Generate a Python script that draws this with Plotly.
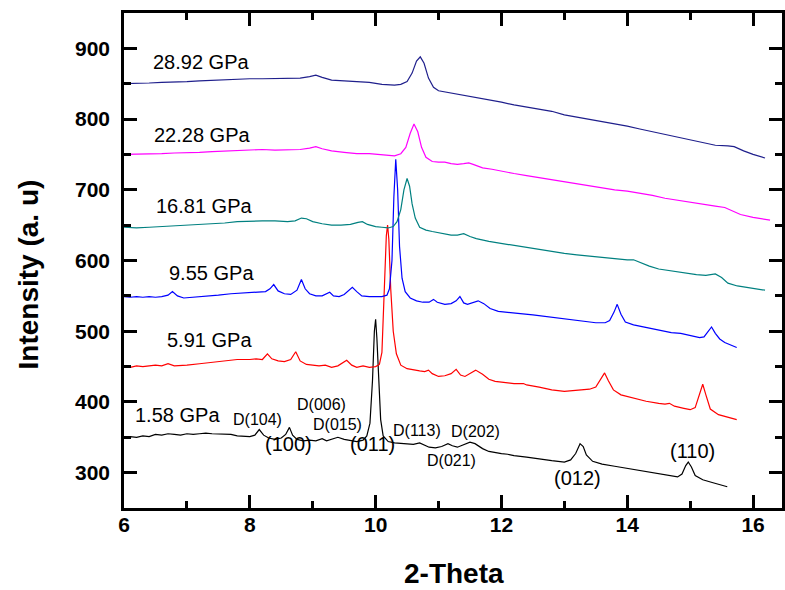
import plotly.graph_objects as go

# ---------------- data ----------------
x_158 = [6.0, 6.1, 6.2, 6.3, 6.4, 6.5, 6.6, 6.7, 6.8, 6.9, 7.0, 7.1, 7.2, 7.3, 7.4, 7.5, 7.6, 7.7, 7.8, 7.9, 8.0,
         8.08, 8.15, 8.22, 8.3, 8.4, 8.5, 8.57, 8.63, 8.68, 8.75, 8.85, 8.95, 9.05, 9.15, 9.22, 9.3, 9.4, 9.5, 9.6,
         9.7, 9.8, 9.86, 9.91, 9.95, 9.98, 10.0, 10.02, 10.05, 10.08, 10.12, 10.2, 10.3, 10.4, 10.5, 10.6, 10.7,
         10.76, 10.85, 10.95, 11.05, 11.15, 11.22, 11.3, 11.4, 11.5, 11.58, 11.7, 11.8, 11.9, 12.0, 12.1, 12.2,
         12.4, 12.6, 12.8, 13.0, 13.1, 13.18, 13.25, 13.3, 13.35, 13.45, 13.6, 13.8, 14.0, 14.2, 14.4, 14.6, 14.7,
         14.8, 14.87, 14.93, 14.97, 15.02, 15.08, 15.2, 15.35, 15.5, 15.59]
y_158 = [350, 351, 350, 352, 351, 354, 353, 355, 354, 353, 355, 354, 355, 356, 355, 355, 354, 354, 352, 351, 351,
         353, 361, 353, 349, 347, 349, 354, 364, 353, 347, 345, 346, 345, 348, 345, 347, 350, 347, 345,
         344, 346, 352, 370, 430, 500, 517, 490, 420, 375, 352, 344, 342, 341, 341, 340, 342,
         340, 336, 335, 337, 341, 338, 336, 339, 343, 341, 334, 330, 328, 327, 326, 324,
         322, 319, 317, 315, 318, 327, 341, 337, 325, 316, 312, 309, 306, 303, 300, 297, 296,
         294, 298, 310, 315, 308, 296, 290, 286, 282, 280]

x_591 = [6.0, 6.1, 6.2, 6.3, 6.4, 6.5, 6.6, 6.7, 6.8, 6.9, 7.0, 7.2, 7.4, 7.6, 7.8, 8.0, 8.1, 8.2, 8.28, 8.35,
         8.45, 8.55, 8.65, 8.73, 8.8, 8.9, 9.0, 9.1, 9.2, 9.3, 9.4, 9.48, 9.54, 9.62, 9.7, 9.8, 9.9, 10.0, 10.06,
         10.1, 10.14, 10.17, 10.19, 10.21, 10.24, 10.28, 10.33, 10.4, 10.5, 10.6, 10.7, 10.78, 10.84, 10.9, 11.0,
         11.1, 11.2, 11.28, 11.35, 11.42, 11.5, 11.59, 11.7, 11.8, 11.9, 12.0, 12.2, 12.35, 12.4, 12.6, 12.8,
         13.0, 13.2, 13.4, 13.5, 13.58, 13.64, 13.7, 13.78, 13.9, 14.1, 14.3, 14.5, 14.6, 14.67, 14.75, 14.9,
         15.0, 15.08, 15.15, 15.2, 15.25, 15.32, 15.45, 15.6, 15.74]
y_591 = [450, 449, 451, 450, 451, 452, 451, 454, 451, 451, 452, 454, 456, 458, 460, 460, 461, 460, 468, 461,
         458, 457, 460, 471, 458, 453, 452, 451, 452, 449, 451, 455, 459, 452, 449, 451, 449, 450, 453,
         470, 560, 635, 650, 630, 560, 500, 468, 452, 447, 445, 444, 443, 445, 440, 436,
         437, 440, 446, 438, 436, 440, 445, 439, 432, 429, 428, 426, 426, 424, 421, 417,
         415, 416, 418, 421, 432, 441, 430, 417, 410, 405, 401, 398, 397, 398, 394, 391,
         389, 392, 410, 425, 410, 390, 382, 378, 375]

x_955 = [6.0, 6.1, 6.2, 6.3, 6.4, 6.5, 6.6, 6.7, 6.77, 6.85, 6.95, 7.1, 7.3, 7.5, 7.7, 7.9, 8.1, 8.25, 8.32,
         8.38, 8.45, 8.55, 8.65, 8.75, 8.82, 8.88, 8.95, 9.05, 9.15, 9.22, 9.27, 9.33, 9.42, 9.5, 9.57, 9.63,
         9.7, 9.78, 9.9, 10.0, 10.1, 10.18, 10.22, 10.26, 10.29, 10.32, 10.35, 10.38, 10.42, 10.47, 10.55,
         10.65, 10.75, 10.85, 10.92, 10.98, 11.1, 11.2, 11.28, 11.34, 11.4, 11.46, 11.55, 11.63, 11.72, 11.82,
         11.95, 12.1, 12.3, 12.5, 12.7, 12.9, 13.1, 13.3, 13.5, 13.65, 13.72, 13.79, 13.84, 13.9, 13.97, 14.1,
         14.3, 14.5, 14.7, 14.85, 15.0, 15.15, 15.22, 15.28, 15.34, 15.4, 15.47, 15.55, 15.65, 15.74]
y_955 = [549, 548, 549, 548, 549, 548, 549, 551, 556, 550, 547, 548, 549, 551, 553, 554, 555, 556, 560,
         566, 557, 553, 552, 558, 573, 560, 553, 550, 550, 553, 555, 550, 549, 552, 558, 562,
         556, 550, 549, 549, 549, 551, 560, 600, 690, 743, 700, 620, 575, 556, 547,
         543, 541, 541, 545, 541, 538, 539, 543, 549, 540, 538, 541, 543, 539, 532,
         528, 527, 525, 523, 521, 519, 517, 514, 512, 512, 515, 527, 538, 524, 513, 509,
         505, 502, 498, 497, 494, 491, 492, 499, 506, 497, 489, 484, 480, 477]

x_1681 = [6.0, 6.2, 6.4, 6.6, 6.8, 7.0, 7.2, 7.4, 7.6, 7.8, 8.0, 8.2, 8.4, 8.6, 8.72, 8.82, 8.9, 9.0, 9.15,
          9.3, 9.45, 9.6, 9.72, 9.79, 9.87, 10.0, 10.1, 10.2, 10.28, 10.34, 10.4, 10.45, 10.5, 10.54, 10.58,
          10.63, 10.7, 10.8, 10.9, 11.0, 11.1, 11.2, 11.3, 11.4, 11.5, 11.6, 11.8, 12.0, 12.2, 12.4, 12.6,
          12.8, 13.0, 13.2, 13.4, 13.6, 13.8, 13.9, 14.0, 14.1, 14.2, 14.35, 14.5, 14.7, 14.9, 15.1, 15.25,
          15.4, 15.5, 15.6, 15.75, 15.9, 16.05, 16.19]
y_1681 = [647, 646, 647, 648, 648, 649, 650, 652, 653, 655, 656, 656, 656, 655, 656, 660, 659, 655, 652,
          650, 650, 651, 654, 655, 651, 648, 647, 646, 648, 655, 672, 700, 716, 705, 680,
          660, 647, 643, 641, 639, 637, 636, 636, 638, 634, 631, 627, 624, 622, 619, 616,
          613, 610, 608, 606, 604, 603, 601, 601, 601, 597, 592, 588, 585, 582, 580, 579,
          581, 576, 568, 564, 562, 560, 558]

x_2228 = [6.0, 6.2, 6.4, 6.6, 6.8, 7.0, 7.2, 7.4, 7.6, 7.8, 8.0, 8.2, 8.4, 8.6, 8.8, 8.95, 9.05, 9.15, 9.3,
          9.5, 9.7, 9.9, 10.0, 10.1, 10.2, 10.3, 10.4, 10.48, 10.55, 10.61, 10.67, 10.73, 10.8, 10.9, 11.0,
          11.1, 11.2, 11.3, 11.4, 11.48, 11.55, 11.7, 11.85, 12.0, 12.2, 12.4, 12.6, 12.8, 13.0, 13.2, 13.4,
          13.6, 13.8, 14.0, 14.15, 14.25, 14.4, 14.6, 14.8, 15.0, 15.2, 15.4, 15.55, 15.65, 15.8, 16.0, 16.15,
          16.27]
y_2228 = [750, 750, 751, 751, 752, 752, 753, 754, 755, 756, 756, 757, 756, 756, 757, 759, 761, 758, 755,
          753, 751, 751, 750, 749, 748, 748, 751, 760, 780, 793, 782, 760, 746, 740, 739,
          739, 737, 736, 737, 738, 736, 731, 729, 726, 723, 720, 717, 714, 712, 709, 706,
          703, 700, 698, 696, 695, 692, 688, 685, 682, 679, 677, 675, 671, 665, 661, 659,
          657]

x_2892 = [6.0, 6.2, 6.4, 6.6, 6.8, 7.0, 7.2, 7.4, 7.6, 7.8, 8.0, 8.2, 8.4, 8.6, 8.8, 8.95, 9.05, 9.15, 9.3,
          9.5, 9.7, 9.9, 10.1, 10.2, 10.3, 10.4, 10.5, 10.58, 10.65, 10.71, 10.77, 10.84, 10.92, 11.0, 11.2,
          11.4, 11.6, 11.8, 12.0, 12.2, 12.4, 12.6, 12.8, 13.0, 13.2, 13.4, 13.6, 13.8, 14.0, 14.2, 14.4,
          14.6, 14.8, 15.0, 15.2, 15.4, 15.6, 15.7, 15.85, 16.0, 16.19]
y_2892 = [850, 850, 851, 852, 852, 853, 854, 855, 856, 856, 857, 857, 857, 857, 858, 860, 862, 859, 855,
          854, 853, 852, 849, 848, 848, 849, 853, 865, 882, 888, 879, 858, 845, 840, 837,
          834, 831, 828, 824, 820, 817, 814, 811, 806, 803, 800, 796, 793, 790, 786, 782,
          779, 775, 770, 766, 763, 762, 761, 755, 750, 745]

series = [
    (x_158, y_158, "#000000", "1.58 GPa"),
    (x_591, y_591, "#ff0000", "5.91 GPa"),
    (x_955, y_955, "#0000ff", "9.55 GPa"),
    (x_1681, y_1681, "#008080", "16.81 GPa"),
    (x_2228, y_2228, "#ff00ff", "22.28 GPa"),
    (x_2892, y_2892, "#1f1f8c", "28.92 GPa"),
]

# pressure labels: (text, x, y)
pressure_labels = [
    ("28.92 GPa", 6.43, 881),
    ("22.28 GPa", 6.45, 778),
    ("16.81 GPa", 6.48, 677),
    ("9.55 GPa", 6.69, 583),
    ("5.91 GPa", 6.65, 488),
    ("1.58 GPa", 6.14, 381),
]

# peak labels: (text, x_center, y_center, size)
peak_labels = [
    ("D(104)", 8.125, 375.5, 16),
    ("(100)", 8.62, 340, 20),
    ("D(006)", 9.14, 395.7, 16),
    ("D(015)", 9.40, 368.4, 16),
    ("(011)", 9.945, 340, 20),
    ("D(113)", 10.65, 360.3, 16),
    ("D(202)", 11.58, 358, 16),
    ("D(021)", 11.21, 316.5, 16),
    ("(012)", 13.21, 293, 20),
    ("(110)", 15.03, 330.6, 20),
]

FONT = "Liberation Sans, Arial, sans-serif"

fig = go.Figure()
for xs, ys, col, name in series:
    fig.add_trace(go.Scatter(x=xs, y=ys, mode="lines", name=name,
                             line=dict(color=col, width=1.2), showlegend=False))

for txt, x, y in pressure_labels:
    fig.add_annotation(x=x, y=y, text=txt, showarrow=False, xanchor="left", yanchor="middle",
                       font=dict(family=FONT, size=20, color="black"))

for txt, x, y, s in peak_labels:
    fig.add_annotation(x=x, y=y, text=txt, showarrow=False, xanchor="center", yanchor="middle",
                       font=dict(family=FONT, size=s, color="black"))

# axis titles
fig.add_annotation(xref="paper", yref="paper", x=-0.145, y=0.471, text="Intensity (a. u)",
                   textangle=-90, showarrow=False, xanchor="center", yanchor="middle",
                   font=dict(family=FONT, size=28, color="black", weight="bold"))
fig.add_annotation(xref="paper", yref="paper", x=0.502, y=-0.132, text="2-Theta",
                   showarrow=False, xanchor="center", yanchor="middle",
                   font=dict(family=FONT, size=28, color="black", weight="bold"))

axis_common = dict(showline=True, linewidth=2.5, linecolor="black", mirror="allticks",
                   ticks="inside", ticklen=13, tickwidth=2.5, tickcolor="black",
                   showgrid=False, zeroline=False,
                   tickfont=dict(family=FONT, size=21, color="black", weight="bold"))

fig.update_xaxes(range=[6, 16.46], tick0=0, dtick=2,
                 minor=dict(ticks="inside", ticklen=7, tickwidth=2.5, tickcolor="black", dtick=1, tick0=0),
                 ticklabelstandoff=-4, **axis_common)
fig.update_yaxes(range=[250, 950], tick0=0, dtick=100,
                 minor=dict(ticks="inside", ticklen=7, tickwidth=2.5, tickcolor="black", dtick=50, tick0=0),
                 ticklabelstandoff=7, **axis_common)

fig.update_layout(width=785, height=590, margin=dict(l=124, r=0, t=13, b=82),
                  plot_bgcolor="white", paper_bgcolor="white")

fig.write_html("out.html")
